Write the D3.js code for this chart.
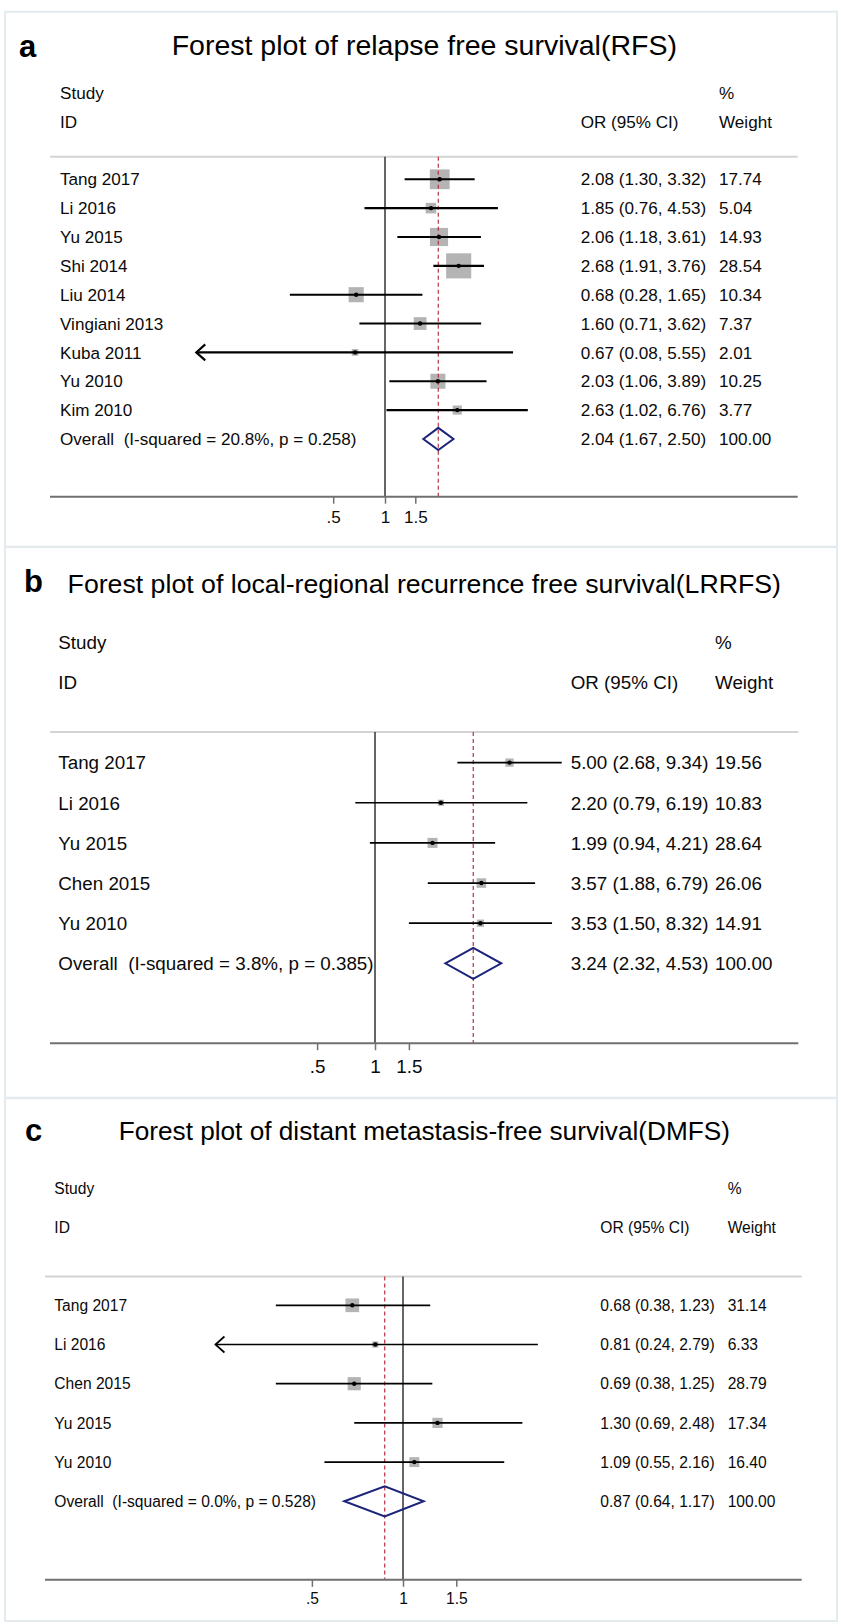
<!DOCTYPE html>
<html>
<head>
<meta charset="utf-8">
<script src="https://cdn.jsdelivr.net/npm/d3@7/dist/d3.min.js"></script>
<style>
  body { margin: 0; background: #fff; }
  svg text { font-family: "Liberation Sans", Arial, Helvetica, sans-serif; fill: #0a0a0a; white-space: pre; }
</style>
</head>
<body>
<svg id="chart"></svg>
<script>
// ---- panel a : relapse free survival
const rfsStudies = ['Tang 2017', 'Li 2016', 'Yu 2015', 'Shi 2014', 'Liu 2014', 'Vingiani 2013', 'Kuba 2011', 'Yu 2010', 'Kim 2010'];
const rfsOR = [2.08, 1.85, 2.06, 2.68, 0.68, 1.60, 0.67, 2.03, 2.63];
const rfsLow = [1.30, 0.76, 1.18, 1.91, 0.28, 0.71, 0.08, 1.06, 1.02];
const rfsHigh = [3.32, 4.53, 3.61, 3.76, 1.65, 3.62, 5.55, 3.89, 6.76];
const rfsWeight = [17.74, 5.04, 14.93, 28.54, 10.34, 7.37, 2.01, 10.25, 3.77];
const rfsOverall = [2.04, 1.67, 2.50];
const rfsHet = 'Overall  (I-squared = 20.8%, p = 0.258)';

// ---- panel b : local-regional recurrence free survival
const lrrfsStudies = ['Tang 2017', 'Li 2016', 'Yu 2015', 'Chen 2015', 'Yu 2010'];
const lrrfsOR = [5.00, 2.20, 1.99, 3.57, 3.53];
const lrrfsLow = [2.68, 0.79, 0.94, 1.88, 1.50];
const lrrfsHigh = [9.34, 6.19, 4.21, 6.79, 8.32];
const lrrfsWeight = [19.56, 10.83, 28.64, 26.06, 14.91];
const lrrfsOverall = [3.24, 2.32, 4.53];
const lrrfsHet = 'Overall  (I-squared = 3.8%, p = 0.385)';

// ---- panel c : distant metastasis-free survival
const dmfsStudies = ['Tang 2017', 'Li 2016', 'Chen 2015', 'Yu 2015', 'Yu 2010'];
const dmfsOR = [0.68, 0.81, 0.69, 1.30, 1.09];
const dmfsLow = [0.38, 0.24, 0.38, 0.69, 0.55];
const dmfsHigh = [1.23, 2.79, 1.25, 2.48, 2.16];
const dmfsWeight = [31.14, 6.33, 28.79, 17.34, 16.40];
const dmfsOverall = [0.87, 0.64, 1.17];
const dmfsHet = 'Overall  (I-squared = 0.0%, p = 0.528)';

const tickValues = [0.5, 1, 1.5];

let width = 841;
let height = 1624;

let svg = d3.select('#chart')
            .attr('width', width)
            .attr('height', height);

// layout of each panel (pixel positions only)
let panels = [
    {
        label: 'a', title: 'Forest plot of relapse free survival(RFS)',
        studies: rfsStudies, or: rfsOR, low: rfsLow, high: rfsHigh, weight: rfsWeight,
        overall: rfsOverall, het: rfsHet,
        box: [11.7, 546.7], labelX: 19, labelY: 57, titleY: 55, titleSize: 28.5,
        studyY: 93.3, idY: 121.7, sepY: 156.7, row0: 179.3, rowStep: 28.85,
        axisY: 496.7, tickY: 516.7, lineX: [50, 797.7],
        studyX: 60, valX: 580.7, wX: 719, font: 17.1, ciWidth: 2.1,
        x05: 333.2, x15: 415.3, boxMax: 47, arrowBelow: 0.1
    },
    {
        label: 'b', title: 'Forest plot of local-regional recurrence free survival(LRRFS)',
        studies: lrrfsStudies, or: lrrfsOR, low: lrrfsLow, high: lrrfsHigh, weight: lrrfsWeight,
        overall: lrrfsOverall, het: lrrfsHet,
        box: [547.1, 1097.7], labelX: 24, labelY: 592, titleY: 593, titleSize: 26.7,
        studyY: 641.8, idY: 681.8, sepY: 732.1, row0: 762.6, rowStep: 40.15,
        axisY: 1043.2, tickY: 1066, lineX: [50, 798.3],
        studyX: 58.3, valX: 570.7, wX: 715, font: 18.8, ciWidth: 1.7,
        x05: 317.1, x15: 408.9, boxMax: 18.7, arrowBelow: 0.1
    },
    {
        label: 'c', title: 'Forest plot of distant metastasis-free survival(DMFS)',
        studies: dmfsStudies, or: dmfsOR, low: dmfsLow, high: dmfsHigh, weight: dmfsWeight,
        overall: dmfsOverall, het: dmfsHet,
        box: [1098.3, 1621], labelX: 25, labelY: 1140.5, titleY: 1140, titleSize: 26.2,
        studyY: 1188, idY: 1227.6, sepY: 1276.4, row0: 1305.3, rowStep: 39.2,
        axisY: 1579.8, tickY: 1598.5, lineX: [45, 801.7],
        studyX: 54.3, valX: 600.3, wX: 727.7, font: 15.6, ciWidth: 1.7,
        x05: 311.9, x15: 456.3, boxMax: 24.5, arrowBelow: 0.25
    }
];

let fmt = (v) => v.toFixed(2);

let drawPanel = (p) => {
    let g = svg.append('g');
    let n = p.studies.length;
    let base = (cy, size) => cy + 0.36 * size;   // centre of caps -> baseline

    let xScale = d3.scaleLog()
                   .domain([0.5, 1.5])
                   .range([p.x05, p.x15]);

    let yScale = d3.scaleLinear()
                   .domain([0, 1])
                   .range([p.row0, p.row0 + p.rowStep]);

    let sizeScale = d3.scaleSqrt()
                      .domain([0, 100])
                      .range([0, p.boxMax]);

    // panel frame
    g.append('rect')
        .attr('x', 5)
        .attr('y', p.box[0])
        .attr('width', 832)
        .attr('height', p.box[1] - p.box[0])
        .attr('fill', 'none')
        .attr('stroke', '#e3ebee')
        .attr('stroke-width', 2);

    // letter and title
    g.append('text')
        .attr('x', p.labelX)
        .attr('y', p.labelY)
        .style('font-size', '31px')
        .style('font-weight', 'bold')
        .style('fill', '#000')
        .text(p.label);

    g.append('text')
        .attr('x', 424.3)
        .attr('y', p.titleY)
        .attr('text-anchor', 'middle')
        .style('font-size', p.titleSize + 'px')
        .style('fill', '#000')
        .text(p.title);

    // column headers
    let headers = [
        ['Study', p.studyX, p.studyY], ['ID', p.studyX, p.idY],
        ['OR (95% CI)', p.valX, p.idY], ['%', p.wX, p.studyY], ['Weight', p.wX, p.idY]
    ];
    g.selectAll('.head')
        .data(headers)
        .enter()
        .append('text')
        .attr('class', 'head')
        .attr('x', (d) => d[1])
        .attr('y', (d) => base(d[2], p.font))
        .style('font-size', p.font + 'px')
        .text((d) => d[0]);

    // separator under header
    g.append('line')
        .attr('x1', p.lineX[0]).attr('x2', p.lineX[1])
        .attr('y1', p.sepY).attr('y2', p.sepY)
        .attr('stroke', '#d4d4d4')
        .attr('stroke-width', 2);

    let rows = p.studies.map((s, i) => ({
        name: s, or: p.or[i], low: p.low[i], high: p.high[i], w: p.weight[i], i: i
    }));

    // weight boxes
    g.selectAll('.box')
        .data(rows)
        .enter()
        .append('rect')
        .attr('class', 'box')
        .attr('x', (d) => xScale(d.or) - sizeScale(d.w) / 2)
        .attr('y', (d) => yScale(d.i) - sizeScale(d.w) / 2)
        .attr('width', (d) => sizeScale(d.w))
        .attr('height', (d) => sizeScale(d.w))
        .attr('fill', '#b4b4b4');

    // null line at OR = 1
    g.append('line')
        .attr('x1', xScale(1)).attr('x2', xScale(1))
        .attr('y1', p.sepY).attr('y2', p.axisY)
        .attr('stroke', '#333')
        .attr('stroke-width', 1.5);

    // overall estimate line
    g.append('line')
        .attr('x1', xScale(p.overall[0])).attr('x2', xScale(p.overall[0]))
        .attr('y1', p.sepY).attr('y2', p.axisY)
        .attr('stroke', '#b8323f')
        .attr('stroke-width', 1.2)
        .attr('stroke-dasharray', '4,3');

    // confidence intervals
    g.selectAll('.ci')
        .data(rows)
        .enter()
        .append('line')
        .attr('class', 'ci')
        .attr('x1', (d) => xScale(d.low))
        .attr('x2', (d) => xScale(d.high))
        .attr('y1', (d) => yScale(d.i))
        .attr('y2', (d) => yScale(d.i))
        .attr('stroke', '#000')
        .attr('stroke-width', p.ciWidth);

    // arrows where the lower limit runs off the scale
    g.selectAll('.arrow')
        .data(rows.filter((d) => d.low < p.arrowBelow))
        .enter()
        .append('path')
        .attr('class', 'arrow')
        .attr('d', (d) => {
            let x = xScale(d.low), y = yScale(d.i);
            return 'M' + (x + 9) + ',' + (y - 8) + 'L' + x + ',' + y + 'L' + (x + 9) + ',' + (y + 8);
        })
        .attr('fill', 'none')
        .attr('stroke', '#000')
        .attr('stroke-width', p.ciWidth);

    // point estimates
    g.selectAll('.dot')
        .data(rows)
        .enter()
        .append('circle')
        .attr('class', 'dot')
        .attr('cx', (d) => xScale(d.or))
        .attr('cy', (d) => yScale(d.i))
        .attr('r', 2.2)
        .attr('fill', '#000');

    // pooled diamond
    let oy = yScale(n);
    let half = p.rowStep * 0.385;
    g.append('path')
        .attr('d', 'M' + xScale(p.overall[1]) + ',' + oy +
                   'L' + xScale(p.overall[0]) + ',' + (oy - half) +
                   'L' + xScale(p.overall[2]) + ',' + oy +
                   'L' + xScale(p.overall[0]) + ',' + (oy + half) + 'Z')
        .attr('fill', 'none')
        .attr('stroke', '#1b237a')
        .attr('stroke-width', 2);

    // row texts
    let textRows = rows.concat([{
        name: p.het, or: p.overall[0], low: p.overall[1], high: p.overall[2], w: 100, i: n
    }]);

    g.selectAll('.name')
        .data(textRows)
        .enter()
        .append('text')
        .attr('class', 'name')
        .attr('x', p.studyX)
        .attr('y', (d) => base(yScale(d.i), p.font))
        .style('font-size', p.font + 'px')
        .text((d) => d.name);

    g.selectAll('.val')
        .data(textRows)
        .enter()
        .append('text')
        .attr('class', 'val')
        .attr('x', p.valX)
        .attr('y', (d) => base(yScale(d.i), p.font))
        .style('font-size', p.font + 'px')
        .text((d) => fmt(d.or) + ' (' + fmt(d.low) + ', ' + fmt(d.high) + ')');

    g.selectAll('.wt')
        .data(textRows)
        .enter()
        .append('text')
        .attr('class', 'wt')
        .attr('x', p.wX)
        .attr('y', (d) => base(yScale(d.i), p.font))
        .style('font-size', p.font + 'px')
        .text((d) => fmt(d.w));

    // x axis
    g.append('line')
        .attr('x1', p.lineX[0]).attr('x2', p.lineX[1])
        .attr('y1', p.axisY).attr('y2', p.axisY)
        .attr('stroke', '#707070')
        .attr('stroke-width', 2);

    let xAxis = d3.axisBottom(xScale)
                  .tickValues(tickValues)
                  .tickSize(7)
                  .tickPadding(0)
                  .tickFormat((d) => d < 1 ? String(d).replace(/^0/, '') : String(d));

    let ax = g.append('g')
        .attr('transform', 'translate(0,' + p.axisY + ')')
        .call(xAxis);

    ax.select('.domain').remove();
    ax.selectAll('.tick line')
        .attr('stroke', '#707070')
        .attr('stroke-width', 1.5);
    ax.selectAll('.tick text')
        .attr('y', base(p.tickY, p.font) - p.axisY)
        .attr('dy', null)
        .attr('font-family', null)
        .attr('font-size', null)
        .style('font-size', p.font + 'px')
        .style('fill', '#0a0a0a');
}

panels.forEach(drawPanel);
</script>
</body>
</html>
